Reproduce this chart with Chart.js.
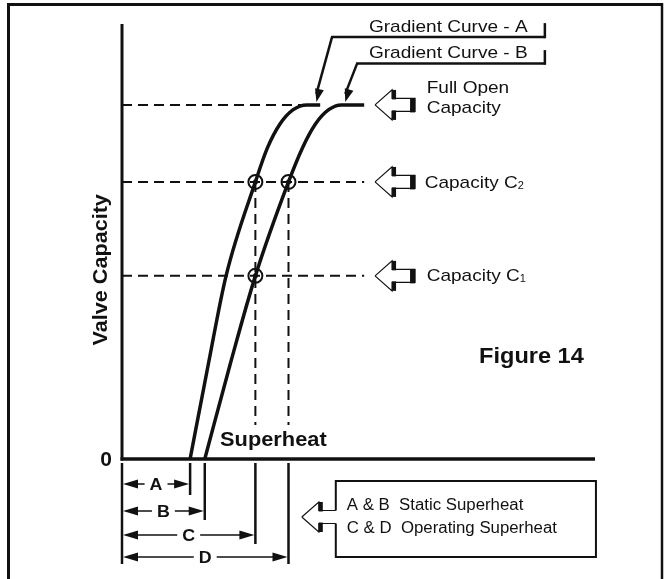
<!DOCTYPE html>
<html>
<head>
<meta charset="utf-8">
<title>Figure 14</title>
<script src="https://cdn.jsdelivr.net/npm/chart.js@4.4.1/dist/chart.umd.min.js"></script>
<style>
  html, body { margin: 0; padding: 0; background: #fff; }
  #wrap { width: 668px; height: 579px; position: relative; }
</style>
</head>
<body>
<div id="wrap"><canvas id="fig14"></canvas></div>
<script>
// Gradient curves (superheat vs valve capacity), arbitrary units
const curveAX = [14.4, 18.2, 22.0, 28.2, 30.7, 33.4, 36.2, 39.1, 41.9];
const curveAY = [0, 21.5, 42.1, 63.7, 71.4, 77.0, 80.3, 81.4, 81.4];
const curveBX = [17.5, 22.8, 28.2, 35.2, 38.1, 40.9, 43.7, 46.4, 51.2];
const curveBY = [0, 21.5, 42.1, 63.7, 71.4, 77.0, 80.3, 81.4, 81.4];

// capacity levels
const capFull = 81.4;
const capC2 = 63.7;
const capC1 = 42.1;
const levelLineEnd = 51.2;
const fullLineEnd = 39.0;

// superheat values A, B (static) and C, D (operating)
const dimNames = ['A', 'B', 'C', 'D'];
const dimValues = [14.4, 17.5, 28.2, 35.2];

// operating points (circled)
const opX = [28.2, 35.2, 28.2];
const opY = [capC2, capC2, capC1];
const dropBottom = 7.8;

const FONT = '"Liberation Sans", Arial, Helvetica, sans-serif';

function toPts(xs, ys) {
  return xs.map((x, i) => ({ x: x, y: ys[i] }));
}

// text helper, slightly widened like the original artwork
function txt(ctx, s, x, y, size, bold, align, stretch) {
  ctx.save();
  ctx.translate(x, y);
  ctx.scale(stretch || 1.1, 1);
  ctx.font = (bold ? 'bold ' : '') + size + 'px ' + FONT;
  ctx.textAlign = align || 'left';
  ctx.textBaseline = 'middle';
  ctx.fillStyle = '#111';
  ctx.fillText(s, 0, 0);
  const w = ctx.measureText(s).width * (stretch || 1.1);
  ctx.restore();
  return w;
}

function line(ctx, x1, y1, x2, y2, w) {
  ctx.beginPath();
  ctx.lineWidth = w;
  ctx.moveTo(x1, y1);
  ctx.lineTo(x2, y2);
  ctx.stroke();
}

function head(ctx, tx, ty, fx, fy, len, half) {
  // filled arrow head pointing at (tx,ty) coming from (fx,fy)
  const a = Math.atan2(ty - fy, tx - fx);
  ctx.beginPath();
  ctx.moveTo(tx, ty);
  ctx.lineTo(tx - len * Math.cos(a) + half * Math.sin(a), ty - len * Math.sin(a) - half * Math.cos(a));
  ctx.lineTo(tx - len * Math.cos(a) - half * Math.sin(a), ty - len * Math.sin(a) + half * Math.cos(a));
  ctx.closePath();
  ctx.fill();
}

// hollow "block" arrow pointing left, with the dark shadow edges
function hollowArrow(ctx, tipX, cy, bodyLen, closedEnd) {
  const hl = 17, hh = 15, bh = 6.5;
  const bx = tipX + hl, ex = bx + bodyLen;
  ctx.beginPath();
  ctx.moveTo(tipX, cy);
  ctx.lineTo(bx, cy - hh);
  ctx.lineTo(bx, cy - bh);
  ctx.lineTo(ex, cy - bh);
  if (closedEnd) ctx.lineTo(ex, cy + bh); else ctx.moveTo(ex, cy + bh);
  ctx.lineTo(bx, cy + bh);
  ctx.lineTo(bx, cy + hh);
  ctx.lineTo(tipX, cy);
  ctx.fillStyle = '#fff';
  ctx.fill();
  ctx.lineWidth = 1.2;
  ctx.strokeStyle = '#111';
  ctx.stroke();
  ctx.fillStyle = '#111';
  ctx.fillRect(bx, cy - hh, 4, hh - bh + 1);
  ctx.fillRect(bx, cy + bh - 1, 4, hh - bh + 1);
  if (closedEnd) ctx.fillRect(ex - 5, cy - bh, 5, 2 * bh + 1);
}

const annotate = {
  id: 'annotate',
  afterDatasetsDraw(chart) {
    const ctx = chart.ctx;
    const xs = chart.scales.x, ys = chart.scales.y;
    const px = v => xs.getPixelForValue(v);
    const py = v => ys.getPixelForValue(v);
    ctx.save();
    ctx.strokeStyle = '#111';
    ctx.fillStyle = '#111';
    ctx.lineCap = 'butt';

    // frame
    line(ctx, 8.5, 4, 8.5, 579, 3);
    line(ctx, 7, 4.5, 663, 4.5, 3);
    line(ctx, 662, 3, 662, 579, 2.5);

    // axes
    line(ctx, px(0), py(0) + 1.5, px(0), py(100), 3);
    line(ctx, px(0) - 1.5, py(0), px(100), py(0), 3.5);
    txt(ctx, '0', px(0) - 10, py(0) + 1, 20, true, 'right', 1.05);

    ctx.save();
    ctx.translate(px(0) - 21, py(43.5));
    ctx.rotate(-Math.PI / 2);
    txt(ctx, 'Valve Capacity', 0, 0, 20, true, 'center', 1.08);
    ctx.restore();

    txt(ctx, 'Superheat', px(32.0), py(4.3), 20, true, 'center', 1.09);
    txt(ctx, 'Figure 14', px(75.5), py(23.5), 22, true, 'left', 1.07);

    // gradient curve call-outs
    const gx = px(52.2);
    txt(ctx, 'Gradient Curve - A', gx, py(99.3), 17, false, 'left', 1.12);
    txt(ctx, 'Gradient Curve - B', gx, py(93.3), 17, false, 'left', 1.12);
    const rx = px(89.4);
    // A
    let sx = px(44.4), sy = py(97.0);
    line(ctx, sx - 1, sy, rx, sy, 2.5);
    line(ctx, rx, py(100.2), rx, sy + 1.2, 2.5);
    let tx = px(curveAX[curveAX.length - 1] - 0.8), ty = py(capFull) - 3;
    line(ctx, sx, sy, tx, ty - 8, 2.5);
    head(ctx, tx, ty, sx, sy, 13, 4.5);
    // B
    sx = px(49.7); sy = py(90.9);
    line(ctx, sx - 1, sy, rx, sy, 2.5);
    line(ctx, rx, py(94.0), rx, sy + 1.2, 2.5);
    tx = px(curveBX[curveBX.length - 1] - 4.0); ty = py(capFull) - 3;
    line(ctx, sx, sy, tx, ty - 8, 2.5);
    head(ctx, tx, ty, sx, sy, 13, 4.5);

    // capacity level arrows and labels
    const tipX = px(53.5);
    const lx = px(64.2);
    [capFull, capC2, capC1].forEach(c => hollowArrow(ctx, tipX, py(c), 23, true));
    txt(ctx, 'Full Open', lx + 1, py(capFull) - 17, 17, false, 'left', 1.12);
    txt(ctx, 'Capacity', lx + 1, py(capFull) + 3, 17, false, 'left', 1.12);
    let w = txt(ctx, 'Capacity C', lx - 1, py(capC2) + 1, 17, false, 'left', 1.12);
    txt(ctx, '2', lx - 1 + w, py(capC2) + 4, 11, false, 'left', 1.0);
    w = txt(ctx, 'Capacity C', lx + 1, py(capC1), 17, false, 'left', 1.12);
    txt(ctx, '1', lx + 1 + w, py(capC1) + 3, 11, false, 'left', 1.0);

    // dimension lines under the axis
    const top = py(0) + 4;
    const rows = [484, 511, 535, 557];
    const ends = [495, 520, 544, 564];
    line(ctx, px(0), top, px(0), 564, 2.5);
    dimValues.forEach((v, i) => {
      const xe = px(v), yr = rows[i];
      line(ctx, xe, top, xe, ends[i], 2.5);
      const xm = (px(0) + xe) / 2;
      const lw = txt(ctx, dimNames[i], xm, yr + 1, 17, true, 'center', 1.05);
      const g = lw / 2 + 5;
      line(ctx, px(0) + 10, yr, xm - g, yr, 1.5);
      line(ctx, xm + g, yr, xe - 10, yr, 1.5);
      head(ctx, px(0) + 1, yr, xm, yr, 15, 4.5);
      head(ctx, xe - 1, yr, xm, yr, 15, 4.5);
    });

    // legend box
    const bl = px(45.2), br = px(100.2), bt = 481, bb = 557, cy = 517;
    ctx.strokeStyle = '#111';
    ctx.lineWidth = 2;
    ctx.beginPath();
    ctx.moveTo(bl, cy - 6.5);
    ctx.lineTo(bl, bt);
    ctx.lineTo(br, bt);
    ctx.lineTo(br, bb);
    ctx.lineTo(bl, bb);
    ctx.lineTo(bl, cy + 6.5);
    ctx.stroke();
    hollowArrow(ctx, bl - 34, cy, 17, false);
    txt(ctx, 'A & B  Static Superheat', bl + 11, 506, 16, false, 'left', 1.05);
    txt(ctx, 'C & D  Operating Superheat', bl + 11, 529, 16, false, 'left', 1.05);

    ctx.restore();
  }
};

const dashStyle = { borderColor: '#111', borderWidth: 2, borderDash: [10, 6], pointRadius: 0, showLine: true, fill: false };
const curveStyle = { borderColor: '#111', borderWidth: 3.5, pointRadius: 0, showLine: true, fill: false,
  tension: 0.4, cubicInterpolationMode: 'monotone', borderCapStyle: 'butt' };

new Chart(document.getElementById('fig14'), {
  type: 'scatter',
  data: {
    datasets: [
      Object.assign({ label: 'Full Open Capacity', data: [{ x: 0, y: capFull }, { x: fullLineEnd, y: capFull }] }, dashStyle),
      Object.assign({ label: 'Capacity C2', data: [{ x: 0, y: capC2 }, { x: levelLineEnd, y: capC2 }] }, dashStyle),
      Object.assign({ label: 'Capacity C1', data: [{ x: 0, y: capC1 }, { x: levelLineEnd, y: capC1 }] }, dashStyle),
      Object.assign({ label: 'C drop', data: [{ x: dimValues[2], y: capC2 }, { x: dimValues[2], y: dropBottom }] }, dashStyle),
      Object.assign({ label: 'D drop', data: [{ x: dimValues[3], y: capC2 }, { x: dimValues[3], y: dropBottom }] }, dashStyle),
      Object.assign({ label: 'Gradient Curve - A', data: toPts(curveAX, curveAY) }, curveStyle),
      Object.assign({ label: 'Gradient Curve - B', data: toPts(curveBX, curveBY) }, curveStyle),
      {
        label: 'Operating points',
        data: toPts(opX, opY),
        pointRadius: 7,
        pointBorderWidth: 2,
        pointBorderColor: '#111',
        pointBackgroundColor: 'rgba(0,0,0,0)',
        showLine: false
      },
      {
        label: 'Operating point centres',
        data: toPts(opX, opY),
        pointRadius: 2.5,
        pointBorderWidth: 0,
        pointBackgroundColor: '#111',
        showLine: false
      }
    ]
  },
  options: {
    responsive: true,
    maintainAspectRatio: false,
    animation: false,
    devicePixelRatio: 1,
    layout: { padding: { left: 122, right: 73, top: 24, bottom: 11.25 } },
    scales: {
      x: { type: 'linear', min: 0, max: 100, display: false },
      y: { type: 'linear', min: -25, max: 100, display: false }
    },
    plugins: {
      legend: { display: false },
      tooltip: { enabled: false }
    }
  },
  plugins: [annotate]
});
</script>
</body>
</html>
